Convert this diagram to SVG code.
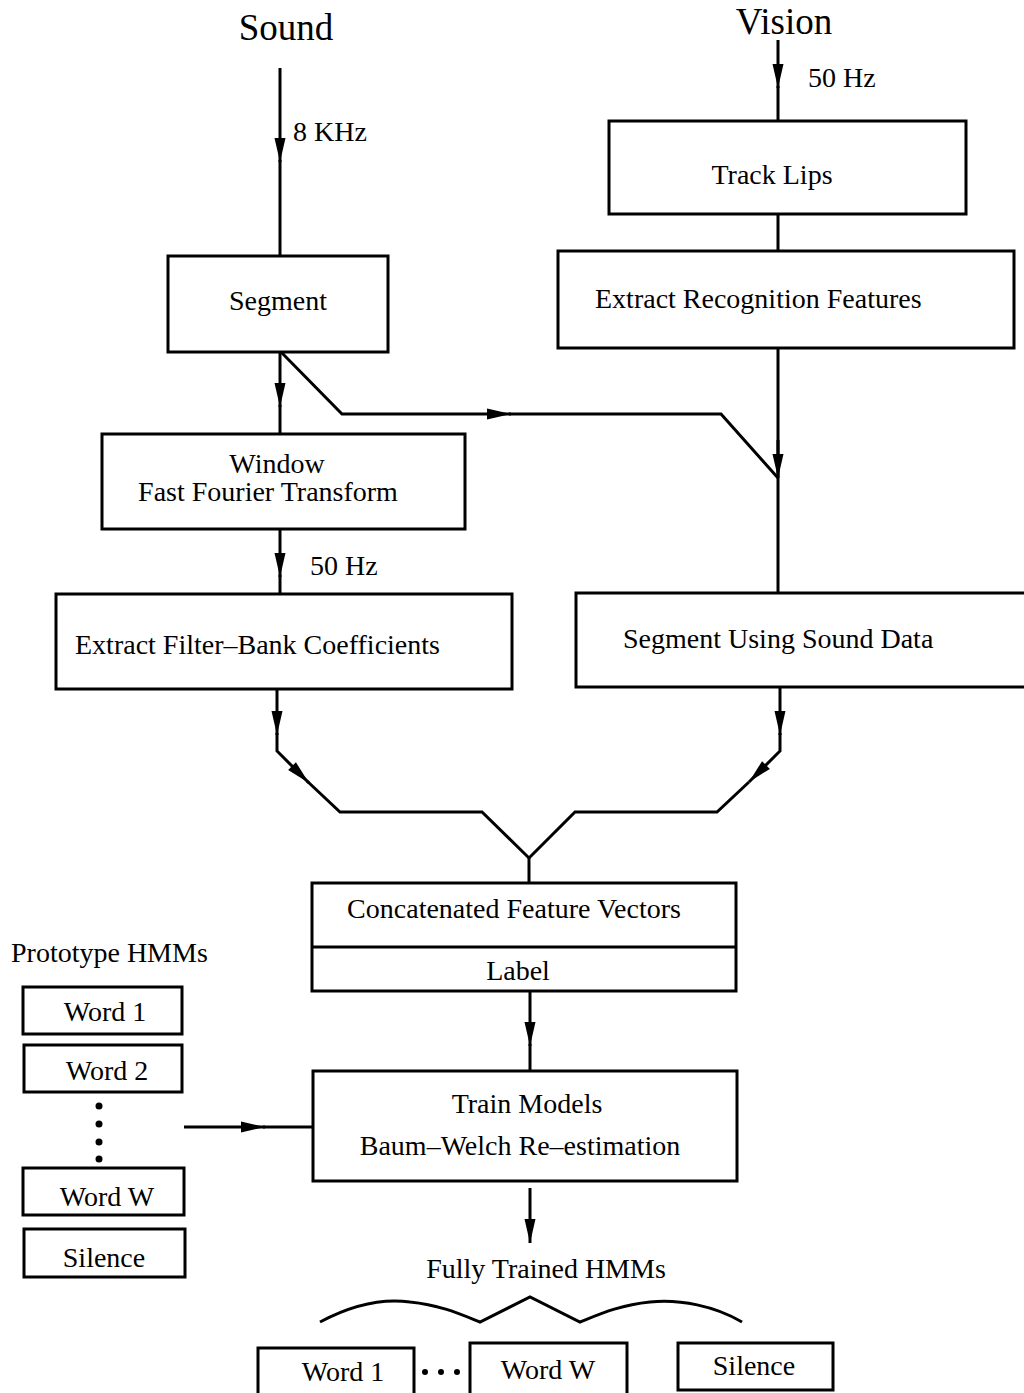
<svg xmlns="http://www.w3.org/2000/svg" width="1024" height="1393" viewBox="0 0 1024 1393">
<style>
text{font-family:"Liberation Serif","Times New Roman",serif;font-size:28px;fill:#000}
.big{font-size:37px}
.c{text-anchor:middle}
.box{fill:none;stroke:#000;stroke-width:3}
.ln{fill:none;stroke:#000;stroke-width:3;stroke-linejoin:miter}
.arr{marker-end:url(#ah)}
</style>
<defs>
<marker id="ah" markerUnits="userSpaceOnUse" viewBox="-26 -6 27 12" refX="0" refY="0" markerWidth="27" markerHeight="12" orient="auto">
<path d="M0,0 L-24,-5.5 L-24,5.5 Z" fill="#000"/>
</marker>
</defs>
<rect width="1024" height="1393" fill="#fff"/>

<g id="labels">
<text class="big c" x="286" y="40">Sound</text>
<text class="big c" x="784" y="34">Vision</text>
<text x="293" y="141">8 KHz</text>
<text x="808" y="87">50 Hz</text>
<text x="310" y="575">50 Hz</text>
<text x="11" y="962">Prototype HMMs</text>
<text class="c" x="546" y="1278">Fully Trained HMMs</text>
</g>

<g id="segment"><rect class="box" x="168" y="256" width="220" height="96"/><text class="c" x="278" y="310">Segment</text></g>
<g id="tracklips"><rect class="box" x="609" y="121" width="357" height="93"/><text class="c" x="772" y="184">Track Lips</text></g>
<g id="extractrec"><rect class="box" x="558" y="251" width="456" height="97"/><text x="595" y="308">Extract Recognition Features</text></g>
<g id="fft"><rect class="box" x="102" y="434" width="363" height="95"/><text class="c" x="277" y="473">Window</text><text class="c" x="268" y="501">Fast Fourier Transform</text></g>
<g id="filterbank"><rect class="box" x="56" y="594" width="456" height="95"/><text x="75" y="654">Extract Filter–Bank Coefficients</text></g>
<g id="segsound"><rect class="box" x="576" y="593" width="460" height="94"/><text x="623" y="648">Segment Using Sound Data</text></g>
<g id="concat"><rect class="box" x="312" y="883" width="424" height="108"/><line class="ln" x1="312" y1="947" x2="736" y2="947"/><text class="c" x="514" y="918">Concatenated Feature Vectors</text><text class="c" x="518" y="980">Label</text></g>
<g id="train"><rect class="box" x="313" y="1071" width="424" height="110"/><text class="c" x="527" y="1113">Train Models</text><text class="c" x="520" y="1155">Baum–Welch Re–estimation</text></g>

<g id="proto-word1"><rect class="box" x="23" y="987" width="159" height="47"/><text class="c" x="105" y="1021">Word 1</text></g>
<g id="proto-word2"><rect class="box" x="24" y="1045" width="158" height="47"/><text class="c" x="107" y="1080">Word 2</text></g>
<g id="proto-dots" fill="#000"><circle cx="99" cy="1106" r="3.5"/><circle cx="99" cy="1124" r="3.5"/><circle cx="99" cy="1142" r="3.5"/><circle cx="99" cy="1159" r="3.5"/></g>
<g id="proto-wordW"><rect class="box" x="23" y="1168" width="161" height="47"/><text class="c" x="107" y="1206">Word W</text></g>
<g id="proto-silence"><rect class="box" x="24" y="1229" width="161" height="48"/><text class="c" x="104" y="1267">Silence</text></g>

<g id="final-word1"><rect class="box" x="258" y="1348" width="156" height="50"/><text class="c" x="343" y="1381">Word 1</text></g>
<g id="final-dots" fill="#000"><circle cx="425" cy="1372" r="3"/><circle cx="441" cy="1372" r="3"/><circle cx="457" cy="1372" r="3"/></g>
<g id="final-wordW"><rect class="box" x="470" y="1343" width="157" height="55"/><text class="c" x="548" y="1379">Word W</text></g>
<g id="final-silence"><rect class="box" x="678" y="1343" width="155" height="47"/><text class="c" x="754" y="1375">Silence</text></g>

<g id="connectors">
<path class="ln arr" d="M280,68 L280,162"/><path class="ln" d="M280,160 L280,256"/>
<path class="ln arr" d="M778,40 L778,88"/><path class="ln" d="M778,86 L778,121"/>
<path class="ln" d="M778,214 L778,251"/>
<path class="ln" d="M778,348 L778,593"/>
<path class="ln arr" d="M280,352 L280,407"/><path class="ln" d="M280,405 L280,434"/>
<path class="ln arr" d="M281,352 L342,414 L511,414"/><path class="ln" d="M509,414 L721,414 L778,478"/>
<path class="ln arr" d="M778,440 L778,478"/>
<path class="ln arr" d="M280,529 L280,577"/><path class="ln" d="M280,575 L280,594"/>
<path class="ln arr" d="M277,689 L277,735"/><path class="ln arr" d="M277,733 L277,751 L309,783"/><path class="ln" d="M307,781 L340,812 L482,812 L529,858 L575,812 L717,812 L749,782"/>
<path class="ln arr" d="M780,687 L780,735"/><path class="ln arr" d="M780,733 L780,751 L749,782"/>
<path class="ln" d="M529,857 L529,883"/>
<path class="ln arr" d="M530,991 L530,1046"/><path class="ln" d="M530,1044 L530,1071"/>
<path class="ln arr" d="M184,1127 L265,1127"/><path class="ln" d="M263,1127 L313,1127"/>
<path class="ln arr" d="M530,1188 L530,1243"/>
</g>

<g id="brace">
<path class="ln" d="M320,1322 C350,1306 380,1298 410,1302 C440,1305 460,1314 480,1322 L530,1297 L580,1322 C600,1314 620,1305 650,1302 C680,1299 715,1306 742,1322"/>
</g>
</svg>
